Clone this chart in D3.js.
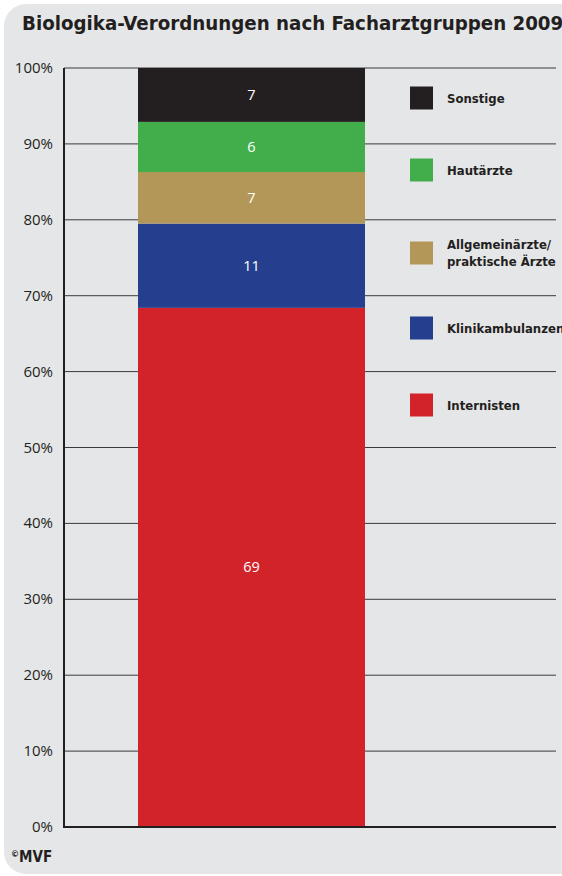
<!DOCTYPE html>
<html>
<head>
    <title>Biologika-Verordnungen nach Facharztgruppen 2009</title>
    <script src="https://cdnjs.cloudflare.com/ajax/libs/d3/7.8.5/d3.min.js"></script>
    <style>
        body {
            margin: 0;
            background-color: #ffffff;
        }
        svg {
            display: block;
        }
        .tick-label {
            font-family: "Open Sans", sans-serif;
            font-size: 15px;
            fill: #231f20;
        }
        .legend-label {
            font-family: "DejaVu Sans Condensed", "DejaVu Sans", sans-serif;
            font-stretch: condensed;
            font-weight: bold;
            font-size: 13px;
            fill: #231f20;
        }
    </style>
</head>
<body>
    <div id="chart"></div>

    <script>
        // Data, bottom segment first
        const categories = ["Internisten", "Klinikambulanzen", "Allgemeinärzte/praktische Ärzte", "Hautärzte", "Sonstige"];
        const shares = [68.4, 11.1, 6.8, 6.6, 7.1];
        const shareLabels = ["69", "11", "7", "6", "7"];
        const colors = ["#d2232a", "#253f8e", "#b39759", "#41ae4b", "#231f20"];
        const yTicks = [0, 10, 20, 30, 40, 50, 60, 70, 80, 90, 100];

        const width = 562;
        const height = 876;

        const svg = d3.select("#chart")
            .append("svg")
            .attr("width", width)
            .attr("height", height);

        // Grey panel with rounded corners on the left
        svg.append("rect")
            .attr("x", 4)
            .attr("y", 4)
            .attr("width", width + 40)
            .attr("height", height - 6)
            .attr("rx", 22)
            .attr("fill", "#e5e6e8");

        svg.append("text")
            .attr("x", 22)
            .attr("y", 30)
            .attr("font-family", "'DejaVu Sans Condensed', 'DejaVu Sans', sans-serif")
            .attr("font-stretch", "condensed")
            .attr("font-weight", "bold")
            .attr("font-size", 20.3)
            .attr("fill", "#231f20")
            .text("Biologika-Verordnungen nach Facharztgruppen 2009");

        const y = d3.scaleLinear()
            .domain([0, 100])
            .range([827, 68]);

        const plotLeft = 64;
        const plotRight = 556;

        // Gridlines
        svg.append("g")
            .selectAll("line")
            .data(yTicks.filter(d => d > 0))
            .enter()
            .append("line")
            .attr("x1", plotLeft)
            .attr("x2", plotRight)
            .attr("y1", d => y(d))
            .attr("y2", d => y(d))
            .attr("stroke", "#3a3a3c")
            .attr("stroke-width", 1);

        // Tick labels
        svg.append("g")
            .selectAll("text")
            .data(yTicks)
            .enter()
            .append("text")
            .attr("class", "tick-label")
            .attr("x", 53)
            .attr("y", d => y(d) + 5)
            .attr("text-anchor", "end")
            .text(d => d + "%");

        // Stacked bar
        const stacked = [];
        let acc = 0;
        shares.forEach((v, i) => {
            stacked.push({ y0: acc, y1: acc + v, color: colors[i], label: shareLabels[i] });
            acc += v;
        });

        const barX = 138;
        const barW = 227;

        const seg = svg.append("g")
            .selectAll("g")
            .data(stacked)
            .enter()
            .append("g");

        seg.append("rect")
            .attr("x", barX)
            .attr("width", barW)
            .attr("y", d => y(d.y1))
            .attr("height", d => y(d.y0) - y(d.y1))
            .attr("fill", d => d.color);

        seg.append("text")
            .attr("x", barX + barW / 2)
            .attr("y", d => (y(d.y0) + y(d.y1)) / 2 + 5)
            .attr("text-anchor", "middle")
            .attr("font-family", "'Open Sans', sans-serif")
            .attr("font-size", 14.5)
            .attr("fill", "#ffffff")
            .text(d => d.label);

        // Axes lines
        svg.append("line")
            .attr("x1", plotLeft)
            .attr("x2", plotLeft)
            .attr("y1", y(100))
            .attr("y2", y(0))
            .attr("stroke", "#231f20")
            .attr("stroke-width", 2);

        svg.append("line")
            .attr("x1", plotLeft - 1)
            .attr("x2", plotRight)
            .attr("y1", y(0))
            .attr("y2", y(0))
            .attr("stroke", "#231f20")
            .attr("stroke-width", 2);

        // Legend, top to bottom
        const legendY = [98, 170, 253, 328, 405];
        const legendLines = [["Sonstige"], ["Hautärzte"], ["Allgemeinärzte/", "praktische Ärzte"], ["Klinikambulanzen"], ["Internisten"]];
        const legendColors = colors.slice().reverse();

        const leg = svg.append("g")
            .selectAll("g")
            .data(legendLines)
            .enter()
            .append("g")
            .attr("transform", (d, i) => `translate(410, ${legendY[i]})`);

        leg.append("rect")
            .attr("x", 0)
            .attr("y", -11.5)
            .attr("width", 23)
            .attr("height", 23)
            .attr("fill", (d, i) => legendColors[i]);

        leg.each(function(lines) {
            const t = d3.select(this).append("text")
                .attr("class", "legend-label")
                .attr("x", 37);
            lines.forEach((line, j) => {
                t.append("tspan")
                    .attr("x", 37)
                    .attr("y", 4.5 + (j - (lines.length - 1) / 2) * 17)
                    .text(line);
            });
        });

        // Copyright
        const copy = svg.append("text")
            .attr("x", 11)
            .attr("y", 862)
            .attr("font-family", "'DejaVu Sans Condensed', 'DejaVu Sans', sans-serif")
            .attr("font-weight", "bold")
            .attr("fill", "#231f20");
        copy.append("tspan")
            .attr("font-size", 9)
            .attr("dy", -5)
            .text("©");
        copy.append("tspan")
            .attr("font-size", 15)
            .attr("dy", 5)
            .text("MVF");
    </script>
</body>
</html>
